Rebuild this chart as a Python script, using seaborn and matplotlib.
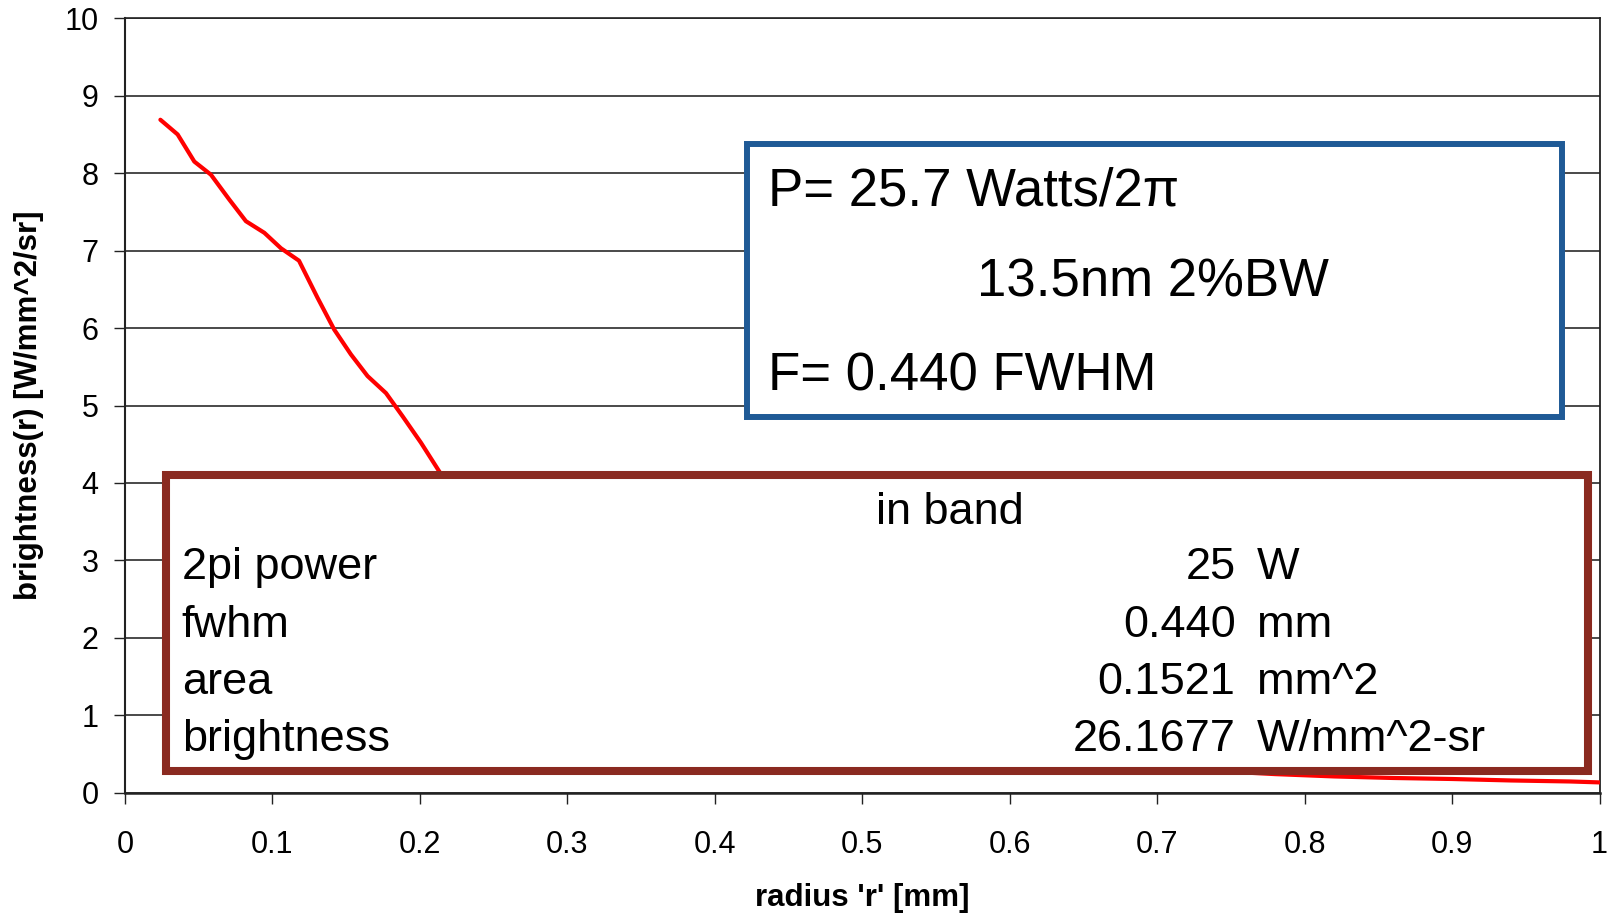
import matplotlib
matplotlib.use("Agg")
import matplotlib.pyplot as plt
import pandas as pd
import seaborn as sns
from matplotlib.patches import Rectangle

# Radial brightness profile of the source
radius_mm = [0.024, 0.0357, 0.047, 0.0583, 0.0707, 0.082, 0.0945, 0.1058, 0.118,
             0.1306, 0.1419, 0.1532, 0.1645, 0.177, 0.1883, 0.2007, 0.2124,
             0.235, 0.26, 0.28, 0.30, 0.33, 0.36, 0.40, 0.45, 0.50, 0.55,
             0.60, 0.65, 0.70, 0.75, 0.78, 0.82, 0.86, 0.90, 0.94, 0.98, 1.0]
brightness = [8.69, 8.50, 8.15, 7.98, 7.66, 7.38, 7.23, 7.03, 6.87,
              6.39, 5.98, 5.66, 5.38, 5.16, 4.86, 4.52, 4.17,
              3.50, 2.90, 2.45, 2.05, 1.60, 1.25, 0.95, 0.72, 0.57, 0.47,
              0.40, 0.35, 0.31, 0.27, 0.24, 0.21, 0.19, 0.177, 0.158, 0.145, 0.133]

x_ticks = [0, 0.1, 0.2, 0.3, 0.4, 0.5, 0.6, 0.7, 0.8, 0.9, 1.0]
x_tick_labels = ["0", "0.1", "0.2", "0.3", "0.4", "0.5", "0.6", "0.7", "0.8", "0.9", "1"]
y_ticks = [0, 1, 2, 3, 4, 5, 6, 7, 8, 9, 10]

source_lines = ["P= 25.7 Watts/2π", "13.5nm 2%BW", "F= 0.440 FWHM"]
band_title = "in band"
band_names = ["2pi power", "fwhm", "area", "brightness"]
band_values = ["25", "0.440", "0.1521", "26.1677"]
band_units = ["W", "mm", "mm^2", "W/mm^2-sr"]

sns.set_theme(style="white")
plt.rcParams["font.family"] = ["Liberation Sans", "DejaVu Sans"]
plt.rcParams["text.color"] = "black"
plt.rcParams["axes.labelcolor"] = "black"
plt.rcParams["xtick.color"] = "black"
plt.rcParams["ytick.color"] = "black"

fig = plt.figure(figsize=(16.1, 9.14), dpi=100)
ax = fig.add_axes([0.07764, 0.13271, 0.91584, 0.84727])

profile = pd.DataFrame({"radius": radius_mm, "brightness": brightness})
sns.lineplot(data=profile, x="radius", y="brightness", ax=ax,
             color="#ff0000", linewidth=3.0, zorder=3)

ax.set_xlim(0, 1)
ax.set_ylim(0, 10)
ax.set_xticks(x_ticks)
ax.set_xticklabels(x_tick_labels)
ax.set_yticks(y_ticks)
ax.yaxis.grid(True, color="#2b2b2b", linewidth=1.2)
ax.xaxis.grid(False)
ax.set_axisbelow(True)

ax.tick_params(axis="x", direction="out", length=7.7, width=1.0, color="#222222",
               labelsize=22, labelcolor="black", pad=19, bottom=True)
ax.tick_params(axis="y", direction="out", length=8, width=1.0, color="#222222",
               labelsize=22, labelcolor="black", pad=11, left=True)

for side in ["left", "bottom", "right", "top"]:
    ax.spines[side].set_visible(True)
    ax.spines[side].set_color("#222222")
ax.spines["left"].set_linewidth(1.5)
ax.spines["bottom"].set_linewidth(1.8)
ax.spines["right"].set_linewidth(1.3)
ax.spines["top"].set_linewidth(1.2)

ax.set_xlabel("radius 'r' [mm]", fontsize=22.5, fontweight="bold", color="black")
ax.xaxis.set_label_coords(0.5, -0.1463)
ax.xaxis.label.set_va("baseline")
ax.set_ylabel("brightness(r) [W/mm^2/sr]", fontsize=22.5, fontweight="bold", color="black")
ax.yaxis.set_label_coords(-0.0651, 0.5)
ax.yaxis.label.set_va("center")

# Source summary box
ax.add_patch(Rectangle((0.4215, 4.851), 0.9746 - 0.4215, 8.383 - 4.851,
                       facecolor="white", edgecolor="#1f5a96", linewidth=4.3,
                       zorder=4, clip_on=False))
ax.text(0.4363, 7.589, source_lines[0], fontsize=38, va="baseline", ha="left",
        color="black", zorder=5)
ax.text(0.5776, 6.405, source_lines[1], fontsize=38, va="baseline", ha="left",
        color="black", zorder=5)
ax.text(0.4363, 5.200, source_lines[2], fontsize=38, va="baseline", ha="left",
        color="black", zorder=5)

# In-band table box
ax.add_patch(Rectangle((0.0278, 0.280), 0.9922 - 0.0278, 4.1026 - 0.280,
                       facecolor="white", edgecolor="#8a2a20", linewidth=5.8,
                       zorder=4, clip_on=False))
ax.text(0.5592, 3.476, band_title, fontsize=32.5, va="baseline", ha="center",
        color="black", zorder=5)
row_baselines = [2.756, 2.014, 1.271, 0.5385]
for name, val, unit, yb in zip(band_names, band_values, band_units, row_baselines):
    ax.text(0.03845, yb, name, fontsize=32.5, va="baseline", ha="left", color="black", zorder=5)
    ax.text(0.7532, yb, val, fontsize=32.5, va="baseline", ha="right", color="black", zorder=5)
    ax.text(0.7678, yb, unit, fontsize=32.5, va="baseline", ha="left", color="black", zorder=5)

fig.savefig("out.png", dpi=100, facecolor="white")
